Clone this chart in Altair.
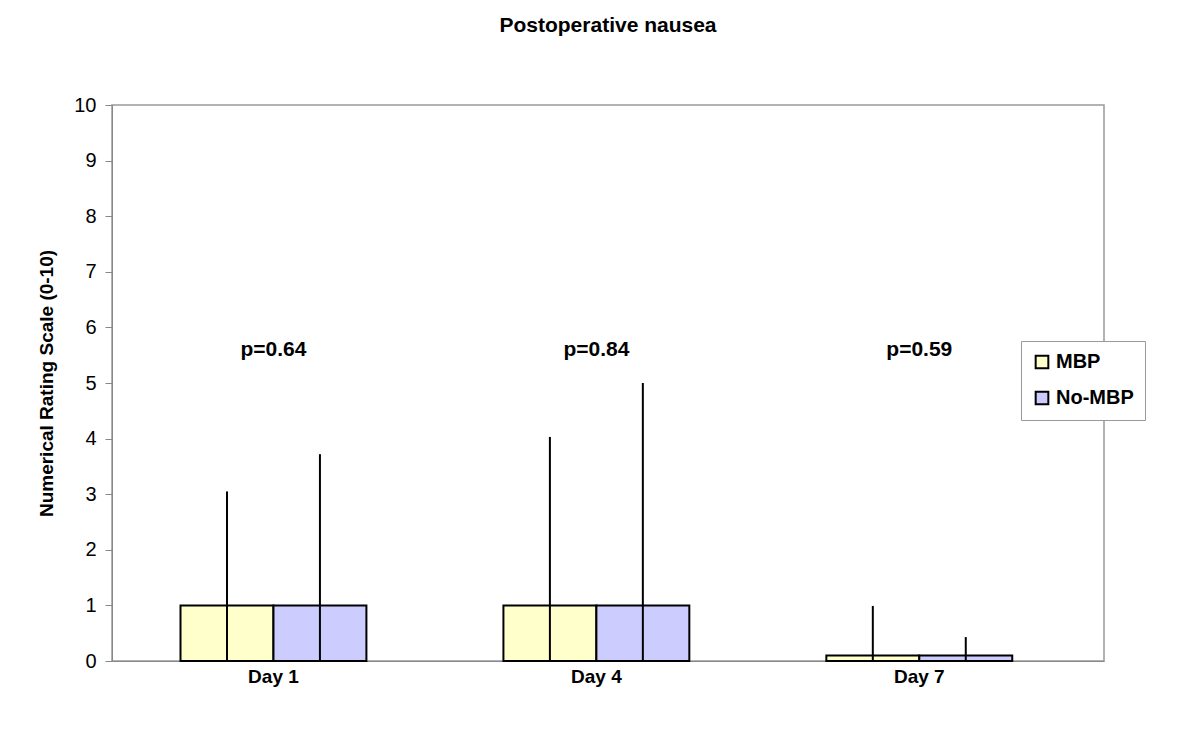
import altair as alt
import pandas as pd

days = ["Day 1", "Day 4", "Day 7"]
groups = ["MBP", "No-MBP"]
mbp_mean = [1.0, 1.0, 0.1]
nombp_mean = [1.0, 1.0, 0.1]
mbp_upper = [3.05, 4.03, 0.99]
nombp_upper = [3.72, 5.0, 0.43]
pvalues = ["p=0.64", "p=0.84", "p=0.59"]
p_y = [5.6, 5.6, 5.6]
colors = ["#FFFFCC", "#CCCCFF"]

rows = []
for i, d in enumerate(days):
    rows.append({"day": d, "group": "MBP", "value": mbp_mean[i], "upper": mbp_upper[i], "zero": 0})
    rows.append({"day": d, "group": "No-MBP", "value": nombp_mean[i], "upper": nombp_upper[i], "zero": 0})
df = pd.DataFrame(rows)
pdf = pd.DataFrame({"day": days, "label": pvalues, "y": p_y})

font = "Liberation Sans"

xscale = alt.Scale(domain=days, paddingInner=0, paddingOuter=0.036, align=0)
xaxis = alt.Axis(title=None, labelFontSize=19, labelFontWeight="bold", labelColor="black",
                 labelFont=font, domainColor="#888888", ticks=False, labelAngle=0,
                 labelPadding=6)
yscale = alt.Scale(domain=[0, 10], nice=False)
yaxis = alt.Axis(title="Numerical Rating Scale (0-10)", titleFontSize=19, titleFontWeight="bold",
                 titleFont=font, titleColor="black", titlePadding=17,
                 values=list(range(0, 11)), labelFontSize=20, labelFont=font, labelColor="black",
                 domainColor="#888888", tickColor="#888888", tickSize=7, grid=False, labelPadding=9)
xoff = alt.Scale(domain=groups, paddingInner=0, paddingOuter=0.737)

bars = alt.Chart(df).mark_bar(stroke="black", strokeWidth=2).encode(
    x=alt.X("day:N", scale=xscale, axis=xaxis, sort=days),
    xOffset=alt.XOffset("group:N", scale=xoff, sort=groups),
    y=alt.Y("value:Q", scale=yscale, axis=yaxis),
    fill=alt.Fill("group:N", scale=alt.Scale(domain=groups, range=colors),
                  legend=alt.Legend(title=None, orient="none", legendX=909, legendY=236,
                                    symbolType="square", symbolSize=160, symbolStrokeColor="black",
                                    symbolStrokeWidth=2, labelFontSize=20, labelFontWeight="bold",
                                    labelFont=font, labelColor="black", strokeColor="#999999",
                                    padding=11, rowPadding=14, labelOffset=4,
                                    fillColor="white")),
)

errs = alt.Chart(df).mark_rule(color="black", strokeWidth=2).encode(
    x=alt.X("day:N", scale=xscale, sort=days),
    xOffset=alt.XOffset("group:N", scale=xoff, sort=groups),
    y=alt.Y("zero:Q", scale=yscale),
    y2="upper:Q",
)

ptext = alt.Chart(pdf).mark_text(fontSize=21, fontWeight="bold", font=font, color="black").encode(
    x=alt.X("day:N", scale=xscale, sort=days),
    y=alt.Y("y:Q", scale=yscale),
    text="label:N",
)

chart = alt.layer(bars, errs, ptext).properties(
    width=992, height=556,
    title=alt.TitleParams("Postoperative nausea", fontSize=21, fontWeight="bold", font=font,
                          color="black", offset=59, anchor="middle"),
    autosize=alt.AutoSizeParams(type="none"),
    padding={"left": 104, "top": 97, "right": 88, "bottom": 60},
).configure_view(stroke="#999999", strokeWidth=1.5)

chart.save("out.html", embed_options={"renderer": "svg", "actions": False})
